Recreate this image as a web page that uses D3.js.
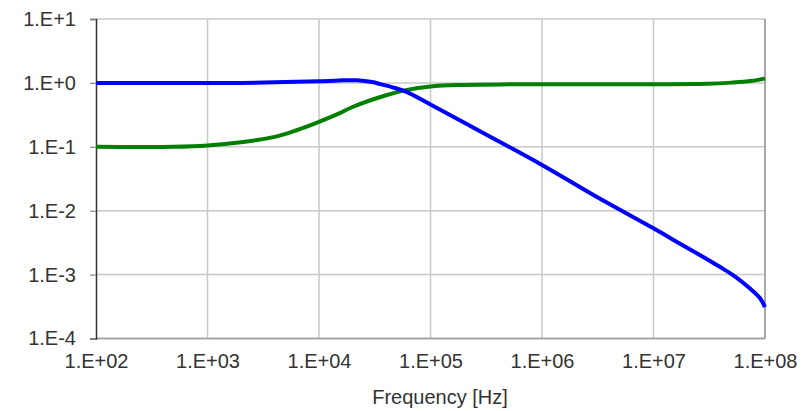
<!DOCTYPE html>
<html>
<head>
<meta charset="utf-8">
<script src="https://cdn.jsdelivr.net/npm/d3@7"></script>
<style>
  html, body { margin: 0; padding: 0; background: #fff; }
  svg text { font-family: "Liberation Sans", Arial, sans-serif; fill: #333; }
</style>
</head>
<body>
<svg id="chart" width="804" height="411"></svg>
<script>
// Frequency response: two transfer magnitudes versus frequency (log-log)
const blueFreq  = [1e2, 2e3, 5e3, 1e4, 1.5e4, 2.2e4, 3e4, 3.6e4, 4.5e4, 6e4, 1e5, 3e5, 1e6, 3e6, 1e7, 1.7e7, 2.6e7, 4e7, 5.4e7, 7.3e7, 9e7, 1e8];
const blueVal   = [1.0, 1.0, 1.03, 1.06, 1.09, 1.1, 1.03, 0.95, 0.86, 0.73, 0.46, 0.163, 0.052, 0.017, 0.0053, 0.0031, 0.00203, 0.0013, 0.00093, 0.00061, 0.00043, 0.00031];

const greenFreq = [1e2, 5e2, 1e3, 2e3, 4e3, 6.2e3, 1e4, 1.5e4, 2e4, 4e4, 6e4, 1e5, 2e5, 5e5, 1e6, 1e7, 3e7, 5e7, 7.5e7, 1e8];
const greenVal  = [0.1, 0.1, 0.105, 0.118, 0.143, 0.18, 0.246, 0.33, 0.42, 0.64, 0.77, 0.88, 0.93, 0.95, 0.955, 0.955, 0.97, 1.01, 1.07, 1.17];

const xTicks = [1e2, 1e3, 1e4, 1e5, 1e6, 1e7, 1e8];
const xTickLabels = ["1.E+02", "1.E+03", "1.E+04", "1.E+05", "1.E+06", "1.E+07", "1.E+08"];
const yTicks = [1e1, 1e0, 1e-1, 1e-2, 1e-3, 1e-4];
const yTickLabels = ["1.E+1", "1.E+0", "1.E-1", "1.E-2", "1.E-3", "1.E-4"];
const xTitle = "Frequency [Hz]";

const margin = { left: 96, right: 39, top: 19, bottom: 72.5 };
const W = 804, H = 411;
const svg = d3.select("#chart");

const x = d3.scaleLog().domain([1e2, 1e8]).range([margin.left, W - margin.right]);
const y = d3.scaleLog().domain([1e-4, 1e1]).range([H - margin.bottom, margin.top]);

// grid
svg.append("g").selectAll("line").data(xTicks.slice(1)).join("line")
  .attr("x1", d => x(d)).attr("x2", d => x(d))
  .attr("y1", y(1e1)).attr("y2", y(1e-4))
  .attr("stroke", "#c8c8c8").attr("stroke-width", 1.5);
svg.append("g").selectAll("line").data(yTicks).join("line")
  .attr("x1", x(1e2)).attr("x2", x(1e8))
  .attr("y1", d => y(d)).attr("y2", d => y(d))
  .attr("stroke", "#c8c8c8").attr("stroke-width", 1.5);

// frame: bottom and right in gray
svg.append("line").attr("x1", x(1e2)).attr("x2", x(1e8)).attr("y1", y(1e-4)).attr("y2", y(1e-4))
  .attr("stroke", "#9a9a9a").attr("stroke-width", 1.5);
svg.append("line").attr("x1", x(1e8)).attr("x2", x(1e8)).attr("y1", y(1e1)).attr("y2", y(1e-4))
  .attr("stroke", "#9a9a9a").attr("stroke-width", 1.5);

// left axis with ticks
const yAxis = d3.axisLeft(y).tickValues(yTicks).tickSize(6).tickPadding(14)
  .tickFormat((d, i) => yTickLabels[i]);
const gy = svg.append("g").attr("transform", `translate(${x(1e2)},0)`).call(yAxis);
gy.select(".domain").attr("stroke", "#333").attr("stroke-width", 1.5);
gy.selectAll(".tick line").attr("stroke", "#888").attr("stroke-width", 1.2);
gy.selectAll(".tick text").attr("font-size", 20).attr("fill", "#333")
  .style("font-family", "'Liberation Sans', Arial, sans-serif");

// bottom axis labels
const xAxis = d3.axisBottom(x).tickValues(xTicks).tickSize(0).tickPadding(15)
  .tickFormat((d, i) => xTickLabels[i]);
const gx = svg.append("g").attr("transform", `translate(0,${y(1e-4)})`).call(xAxis);
gx.select(".domain").remove();
gx.selectAll(".tick text").attr("font-size", 20).attr("fill", "#333")
  .style("font-family", "'Liberation Sans', Arial, sans-serif");

// axis title
svg.append("text").attr("x", 440).attr("y", 404).attr("text-anchor", "middle")
  .attr("font-size", 20).text(xTitle);

// series
const line = d3.line().x(d => x(d[0])).y(d => y(d[1])).curve(d3.curveCatmullRom.alpha(0.5));
svg.append("path").datum(greenFreq.map((f, i) => [f, greenVal[i]]))
  .attr("d", line).attr("fill", "none").attr("stroke", "#008000")
  .attr("stroke-width", 4).attr("stroke-linejoin", "round");
svg.append("path").datum(blueFreq.map((f, i) => [f, blueVal[i]]))
  .attr("d", line).attr("fill", "none").attr("stroke", "#0000ff")
  .attr("stroke-width", 4).attr("stroke-linejoin", "round");
</script>
</body>
</html>
